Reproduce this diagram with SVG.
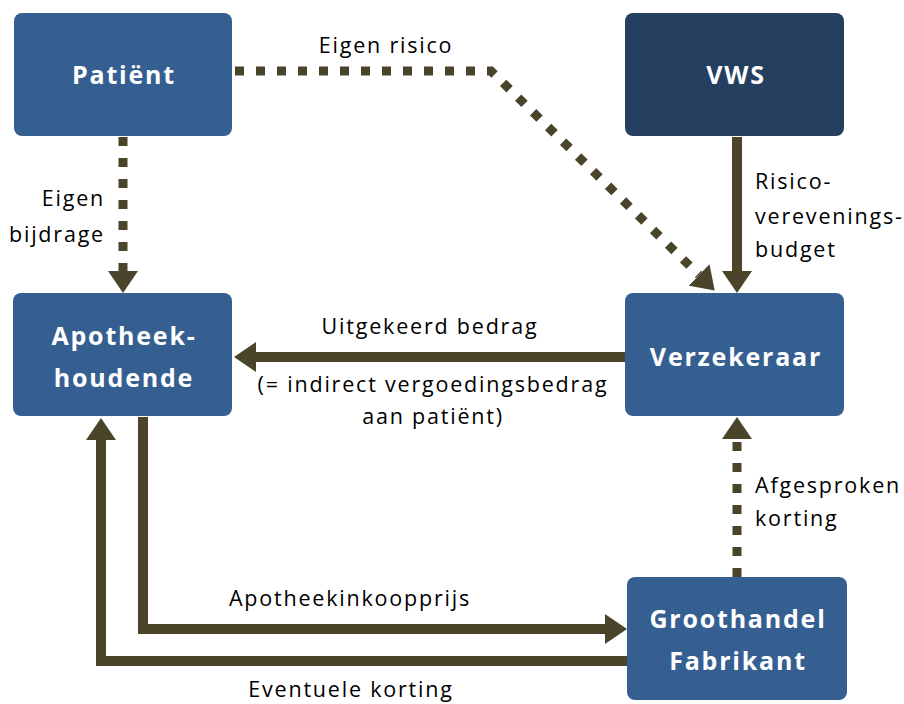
<svg xmlns="http://www.w3.org/2000/svg" width="904" height="704" viewBox="0 0 904 704">
<style>
.node{fill:#365F91}
.dark{fill:#243F60}
.nt{font-family:"Open Sans","Liberation Sans",sans-serif;font-weight:bold;font-size:25px;letter-spacing:1.8px;fill:#fff;text-anchor:middle}
.lb{font-family:"Open Sans","Liberation Sans",sans-serif;font-size:21.5px;letter-spacing:1.8px;fill:#000}
.solid{fill:none;stroke:#4A452A;stroke-width:10;stroke-linejoin:miter}
.dot{fill:none;stroke:#4A452A;stroke-width:9;stroke-dasharray:9 12}
</style>
<defs>
<marker id="ah" markerUnits="userSpaceOnUse" viewBox="0 0 22 30" refX="0" refY="15" markerWidth="22" markerHeight="30" orient="auto">
<path d="M0,0 L22,15 L0,30 Z" fill="#4A452A"/>
</marker>
</defs>
<g id="connectors">
<path class="dot" d="M123,137 V271" marker-end="url(#ah)"/>
<path class="dot" d="M235,71 H491 L699,275" marker-end="url(#ah)"/>
<path class="solid" d="M737,137 V271" marker-end="url(#ah)"/>
<path class="solid" d="M625,357 H256" marker-end="url(#ah)"/>
<path class="solid" d="M143,417 V629 H605" marker-end="url(#ah)"/>
<path class="solid" d="M627,661 H101 V440" marker-end="url(#ah)"/>
<path class="dot" d="M737,577 V439" marker-end="url(#ah)"/>
</g>
<g id="labels">
<text class="lb" x="386" y="53" text-anchor="middle">Eigen risico</text>
<text class="lb" x="105" y="206" text-anchor="end">Eigen</text>
<text class="lb" x="105" y="242" text-anchor="end">bijdrage</text>
<text class="lb" x="755" y="189">Risico-</text>
<text class="lb" x="755" y="224">verevenings-</text>
<text class="lb" x="755" y="257">budget</text>
<text class="lb" x="430" y="334" text-anchor="middle">Uitgekeerd bedrag</text>
<text class="lb" x="433" y="392" text-anchor="middle">(= indirect vergoedingsbedrag</text>
<text class="lb" x="433" y="424" text-anchor="middle">aan patiënt)</text>
<text class="lb" x="755" y="493">Afgesproken</text>
<text class="lb" x="755" y="526">korting</text>
<text class="lb" x="350" y="606" text-anchor="middle">Apotheekinkoopprijs</text>
<text class="lb" x="351" y="697" text-anchor="middle">Eventuele korting</text>
</g>
<g id="patient">
<rect class="node" x="14" y="13" width="218" height="123" rx="8"/>
<text class="nt" x="124" y="84">Patiënt</text>
</g>
<g id="vws">
<rect class="dark" x="625" y="13" width="219" height="123" rx="8"/>
<text class="nt" x="736" y="84">VWS</text>
</g>
<g id="apotheekhoudende">
<rect class="node" x="13" y="293" width="219" height="123" rx="8"/>
<text class="nt" x="124" y="345">Apotheek-</text>
<text class="nt" x="124" y="387">houdende</text>
</g>
<g id="verzekeraar">
<rect class="node" x="625" y="293" width="219" height="123" rx="8"/>
<text class="nt" x="736" y="366">Verzekeraar</text>
</g>
<g id="groothandel">
<rect class="node" x="627" y="577" width="220" height="123" rx="8"/>
<text class="nt" x="738" y="628">Groothandel</text>
<text class="nt" x="738" y="670">Fabrikant</text>
</g>
</svg>
